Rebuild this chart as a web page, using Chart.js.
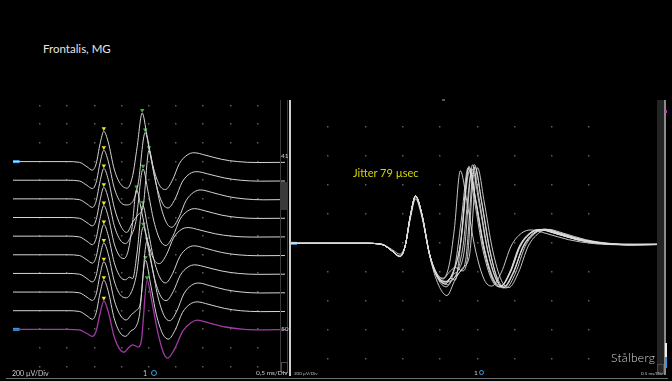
<!DOCTYPE html>
<html>
<head>
<meta charset="utf-8">
<script src="https://cdn.jsdelivr.net/npm/chart.js@4/dist/chart.umd.min.js"></script>
<style>
  html, body { margin: 0; padding: 0; background: #000; }
  body { width: 672px; height: 381px; position: relative; overflow: hidden; font-family: Lato, "Open Sans", sans-serif; }
  .t { position: absolute; white-space: nowrap; line-height: 1; }
  .box { position: absolute; }
  canvas { position: absolute; }
</style>
</head>
<body>
<div class="t" style="left:43px;top:43px;font-size:11.5px;color:#e4e4e4">Frontalis, MG</div>

<canvas id="stacked" width="280" height="275" style="left:9px;top:100px"></canvas>
<canvas id="superimposed" width="373" height="275" style="left:291px;top:100px"></canvas>

<!-- left panel: scroll strip, separator -->
<div class="box" style="left:280px;top:100px;width:6px;height:272px;border-left:1px solid #3a3a3a;border-right:1px solid #3a3a3a"></div>
<div class="box" style="left:281px;top:182px;width:6px;height:28px;background:#3a3a3a"></div>
<div class="box" style="left:281px;top:362px;width:5px;height:9px;border:1px solid #4a4a4a"></div>
<div class="box" style="left:289px;top:100px;width:2px;height:276px;background:#cfcfcf"></div>
<!-- right panel edge strip -->
<div class="box" style="left:657px;top:100px;width:7px;height:275px;background:#242424"></div>
<div class="box" style="left:664px;top:100px;width:2px;height:275px;background:#8a8a8a"></div>
<div class="box" style="left:665px;top:343px;width:2px;height:14px;background:#eeeeee"></div>
<div class="box" style="left:665px;top:357px;width:2px;height:11px;background:#3a9ad9"></div>
<div class="box" style="left:665px;top:110px;width:2px;height:3px;background:#d030d0"></div>
<div class="box" style="left:657px;top:364px;width:5px;height:8px;border:1px solid #4a4a4a"></div>
<div class="box" style="left:442px;top:99px;width:3px;height:2px;background:#555"></div>
<div class="box" style="left:6px;top:378px;width:662px;height:1px;background:#6e6e6e"></div>

<!-- trace numbers -->
<div class="t" style="left:281px;top:153px;font-size:6.5px;color:#d0d0d0">41</div>
<div class="t" style="left:281px;top:326px;font-size:6.5px;color:#d0d0d0">50</div>

<!-- panel footers -->
<div class="t" style="left:12px;top:370px;font-size:7px;color:#cfcfcf">200 µV/Div</div>
<div class="t" style="left:143px;top:370px;font-size:7px;color:#cfcfcf">1</div>
<div class="box" style="left:151px;top:370px;width:4px;height:4px;border:1.5px solid #3d9be0;border-radius:50%"></div>
<div class="t" style="left:256px;top:370px;font-size:6.5px;color:#cfcfcf">0,5 ms/Div</div>
<div class="t" style="left:294px;top:372px;font-size:4.5px;color:#bdbdbd">200 µV/Div</div>
<div class="t" style="left:474px;top:370px;font-size:6.5px;color:#cfcfcf">1</div>
<div class="box" style="left:479px;top:370px;width:3px;height:3px;border:1.5px solid #3d9be0;border-radius:50%"></div>
<div class="t" style="left:641px;top:372px;font-size:4.5px;color:#bdbdbd">0.5 ms/Div</div>

<div class="t" style="left:353px;top:167px;font-size:11px;color:#d6d600">Jitter 79 µsec</div>
<div class="t" style="left:611px;top:352px;font-size:12px;color:#d8d8d8;font-weight:300;letter-spacing:0.3px">Stålberg</div>

<script>
// Consecutive single-fibre sweeps 41..50, [time ms, amplitude µV]
const sweep41 = [[0,0],[1.0,0],[1.22,-8],[1.36,-55],[1.46,-92],[1.53,-20],[1.6,190],[1.67,325],[1.75,210],[1.86,-80],[1.97,-235],[2.1,-285],[2.2,-150],[2.28,150],[2.375,521],[2.46,290],[2.57,-40],[2.69,-250],[2.8,-300],[2.93,-200],[3.06,-20],[3.2,70],[3.33,95],[3.53,70],[3.83,25],[4.13,0],[4.5,-10],[5,-8]];
const sweep42 = [[0,0],[1.0,0],[1.22,-8],[1.36,-55],[1.46,-90],[1.53,-20],[1.6,185],[1.67,322],[1.75,205],[1.86,-80],[1.97,-230],[2.08,-265],[2.2,-230],[2.3,-40],[2.43,511],[2.52,280],[2.63,-40],[2.75,-250],[2.85,-298],[2.98,-200],[3.11,-20],[3.25,70],[3.38,92],[3.58,68],[3.88,25],[4.18,0],[4.55,-10],[5,-8]];
const sweep43 = [[0,0],[1.0,0],[1.22,-8],[1.36,-55],[1.46,-92],[1.53,-20],[1.6,188],[1.67,326],[1.75,210],[1.86,-90],[1.98,-290],[2.09,-360],[2.2,-250],[2.3,-170],[2.39,-90],[2.5,521],[2.59,285],[2.7,-40],[2.82,-255],[2.92,-305],[3.05,-200],[3.18,-20],[3.32,70],[3.45,96],[3.65,70],[3.95,25],[4.25,0],[4.6,-10],[5,-8]];
const sweep44 = [[0,0],[1.0,0],[1.22,-8],[1.36,-55],[1.46,-90],[1.53,-20],[1.6,185],[1.67,324],[1.75,208],[1.86,-85],[1.97,-240],[2.07,-280],[2.16,-210],[2.26,-40],[2.39,521],[2.48,285],[2.59,-40],[2.71,-250],[2.81,-300],[2.94,-200],[3.07,-20],[3.21,70],[3.34,95],[3.54,70],[3.84,25],[4.14,0],[4.5,-10],[5,-8]];
const sweep45 = [[0,0],[1.0,0],[1.22,-8],[1.36,-55],[1.46,-92],[1.53,-20],[1.6,190],[1.67,328],[1.75,210],[1.86,-80],[1.96,-215],[2.04,-240],[2.12,-150],[2.19,100],[2.27,500],[2.36,280],[2.47,-40],[2.59,-250],[2.69,-295],[2.82,-200],[2.95,-20],[3.09,70],[3.22,92],[3.42,68],[3.72,25],[4.02,0],[4.4,-10],[5,-8]];
const sweep46 = [[0,0],[1.0,0],[1.22,-8],[1.36,-55],[1.46,-90],[1.53,-20],[1.6,186],[1.67,325],[1.75,208],[1.86,-82],[1.97,-235],[2.07,-268],[2.14,-240],[2.2,-255],[2.28,20],[2.385,531],[2.475,292],[2.585,-40],[2.705,-250],[2.805,-302],[2.935,-200],[3.065,-20],[3.205,72],[3.335,96],[3.535,70],[3.835,25],[4.135,0],[4.5,-10],[5,-8]];
const sweep47 = [[0,0],[1.0,0],[1.22,-8],[1.36,-55],[1.46,-92],[1.53,-20],[1.6,188],[1.67,326],[1.75,210],[1.86,-80],[1.97,-228],[2.08,-262],[2.18,-195],[2.27,-10],[2.395,500],[2.485,275],[2.595,-40],[2.715,-245],[2.815,-292],[2.945,-195],[3.075,-20],[3.215,68],[3.345,92],[3.545,68],[3.845,25],[4.145,0],[4.5,-10],[5,-8]];
const sweep48 = [[0,0],[1.0,0],[1.22,-8],[1.36,-55],[1.46,-90],[1.53,-20],[1.6,186],[1.67,325],[1.75,208],[1.86,-85],[1.97,-245],[2.08,-300],[2.18,-240],[2.26,-200],[2.34,-120],[2.46,542],[2.55,300],[2.66,-40],[2.78,-255],[2.88,-308],[3.01,-205],[3.14,-20],[3.28,72],[3.41,97],[3.61,70],[3.91,25],[4.21,0],[4.55,-10],[5,-8]];
const sweep49 = [[0,0],[1.0,0],[1.22,-8],[1.36,-55],[1.46,-92],[1.53,-20],[1.6,190],[1.67,327],[1.75,210],[1.86,-82],[1.97,-238],[2.07,-275],[2.17,-215],[2.25,-180],[2.32,-60],[2.435,542],[2.525,298],[2.635,-40],[2.755,-252],[2.855,-305],[2.985,-202],[3.115,-20],[3.255,70],[3.385,95],[3.585,70],[3.885,25],[4.185,0],[4.55,-10],[5,-8]];
const sweep50 = [[0,0],[1.0,0],[1.22,-6],[1.36,-45],[1.46,-75],[1.53,-15],[1.6,170],[1.67,306],[1.75,190],[1.86,-80],[1.97,-220],[2.04,-246],[2.12,-200],[2.2,-167],[2.3,-190],[2.36,-120],[2.465,525],[2.555,290],[2.665,-40],[2.765,-250],[2.845,-308],[2.97,-210],[3.12,-20],[3.27,70],[3.39,98],[3.6,70],[3.9,25],[4.25,0],[4.6,-5],[5,-3]];

const sweeps = [sweep41, sweep42, sweep43, sweep44, sweep45, sweep46, sweep47, sweep48, sweep49, sweep50];

// Grid: 0.5 ms per division, 200 µV per division
const leftDotTimes   = [0.5, 1, 1.5, 2, 2.5, 3, 3.5, 4, 4.5];
const leftDotLevels  = [600, 400, 200, 0, -200, -400, -600, -800, -1000, -1200, -1400, -1600, -1800, -2000, -2200];
const rightDotTimes  = [0.5, 1, 1.5, 2, 2.5, 3, 3.5, 4];
const rightDotLevels = [800, 600, 400, 200, 0, -200, -400, -600, -800];

const rowStep = 200;      // raster spacing between sweeps, µV
const markerLift = 30;    // triangle sits just above the detected peak, µV
const traceWhite = '#d4d4d4';
const tracePurple = '#a23aa6';
const cursorBlue = '#45a8f0';

const dotGrid = {
  id: 'dotGrid',
  beforeDatasetsDraw(chart, args, opts) {
    const { ctx, scales: { x, y } } = chart;
    ctx.save();
    ctx.fillStyle = opts.color;
    for (const t of opts.times) {
      for (const v of opts.levels) {
        const px = Math.round(x.getPixelForValue(t));
        const py = Math.round(y.getPixelForValue(v));
        ctx.fillRect(px - 1, py - 1, 1.5, 1.5);
      }
    }
    ctx.restore();
  }
};

function peakOf(s, from, to) {
  let best = null;
  for (const [t, v] of s) if (t >= from && t < to && (!best || v > best[1])) best = [t, v];
  return best;
}

function baseOptions(yMin, yMax, times, levels) {
  return {
    responsive: false,
    animation: false,
    events: [],
    layout: { padding: 0 },
    plugins: {
      legend: { display: false },
      tooltip: { enabled: false },
      dotGrid: { color: '#5e5e5e', times, levels }
    },
    elements: { point: { radius: 0 } },
    scales: {
      x: { type: 'linear', min: 0, max: 5, display: false },
      y: { type: 'linear', min: yMin, max: yMax, display: false }
    }
  };
}

// Stacked raster (left)
const stackedSets = sweeps.map((s, i) => ({
  data: s.map(([t, v]) => ({ x: t, y: v - i * rowStep })),
  borderColor: i === sweeps.length - 1 ? tracePurple : traceWhite,
  borderWidth: i === sweeps.length - 1 ? 1.3 : 1,
  cubicInterpolationMode: 'monotone',
  pointRadius: 0
}));
const firstPeaks = sweeps.map((s, i) => { const p = peakOf(s, 1.5, 2.0); return { x: p[0], y: p[1] - i * rowStep + markerLift }; });
const secondPeaks = sweeps.map((s, i) => { const p = peakOf(s, 2.15, 2.8); return { x: p[0], y: p[1] - i * rowStep + markerLift }; });
stackedSets.push({ data: firstPeaks, showLine: false, pointStyle: 'triangle', rotation: 180, pointRadius: 2.6, pointBackgroundColor: '#e8e82a', pointBorderWidth: 0 });
stackedSets.push({ data: secondPeaks, showLine: false, pointStyle: 'triangle', rotation: 180, pointRadius: 2.6, pointBackgroundColor: '#3cb043', pointBorderWidth: 0 });
stackedSets.push({ data: [{ x: 0, y: 0 }, { x: 0.12, y: 0 }], borderColor: cursorBlue, borderWidth: 3, pointRadius: 0 });
stackedSets.push({ data: [{ x: 0, y: -(sweeps.length - 1) * rowStep }, { x: 0.12, y: -(sweeps.length - 1) * rowStep }], borderColor: cursorBlue, borderWidth: 3, pointRadius: 0 });

new Chart(document.getElementById('stacked'), {
  type: 'line',
  data: { datasets: stackedSets },
  options: baseOptions(-2247, 618, leftDotTimes, leftDotLevels),
  plugins: [dotGrid]
});

// Superimposed sweeps (right)
const overlaySets = sweeps.map(s => ({
  data: s.map(([t, v]) => ({ x: t, y: v })),
  borderColor: 'rgba(220,220,220,0.9)',
  borderWidth: 1,
  cubicInterpolationMode: 'monotone',
  pointRadius: 0
}));
overlaySets.push({ data: [{ x: 0, y: 0 }, { x: 0.08, y: 0 }], borderColor: cursorBlue, borderWidth: 3, pointRadius: 0 });

new Chart(document.getElementById('superimposed'), {
  type: 'line',
  data: { datasets: overlaySets },
  options: baseOptions(-908, 988, rightDotTimes, rightDotLevels),
  plugins: [dotGrid]
});
</script>
</body>
</html>
